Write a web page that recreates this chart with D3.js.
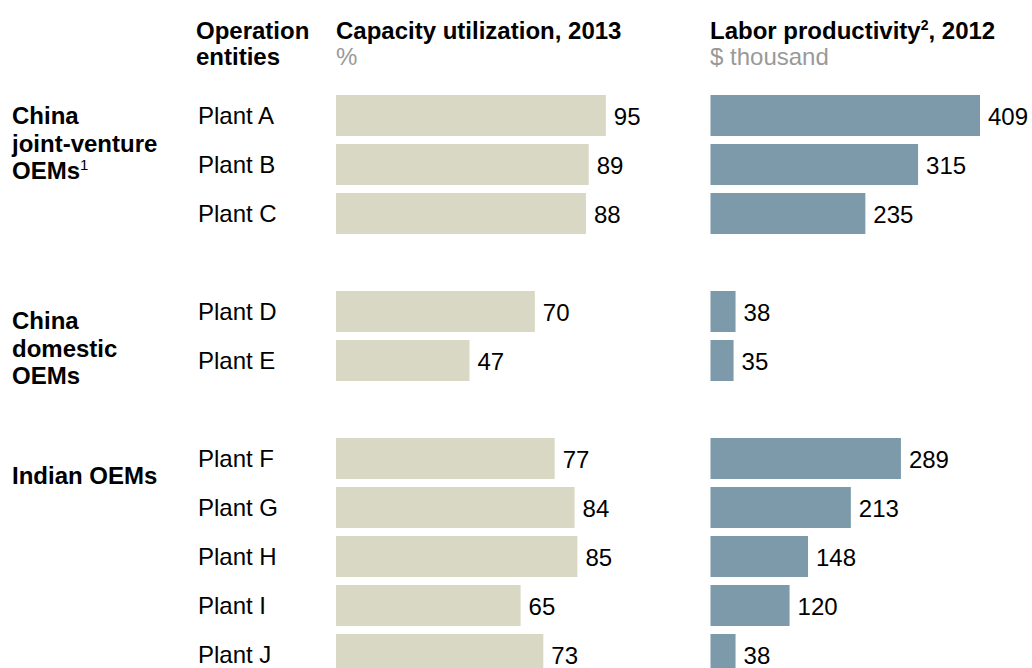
<!DOCTYPE html>
<html>
<head>
<meta charset="utf-8">
<script src="https://cdn.jsdelivr.net/npm/d3@7/dist/d3.min.js"></script>
<style>
  html, body { margin: 0; padding: 0; background: #fff; }
  svg { display: block; font-family: Arial, "Liberation Sans", sans-serif; }
</style>
</head>
<body>
<svg id="chart" width="1032" height="668"></svg>
<script>
// ---- data ----
const plants = ["Plant A","Plant B","Plant C","Plant D","Plant E","Plant F","Plant G","Plant H","Plant I","Plant J"];
const plantGroup = [0,0,0,1,1,2,2,2,2,2];
const groupLabels = [
  ["China", "joint-venture", "OEMs"],
  ["China", "domestic", "OEMs"],
  ["Indian OEMs"]
];
const groupNotes = ["1", "", ""];
const capacity = [95, 89, 88, 70, 47, 77, 84, 85, 65, 73];
const productivity = [409, 315, 235, 38, 35, 289, 213, 148, 120, 38];

// ---- layout ----
const svg = d3.select("#chart");
const beige = "#d9d8c4";
const slate = "#7d9aaa";
const barH = 41;
const rowIdx = plants.map((p, i) => i + plantGroup[i]);
const y = d3.scaleLinear().domain([0, 11]).range([95, 634]);
const xCap = d3.scaleLinear().domain([0, 100]).range([336, 620]);
const xProd = d3.scaleLinear().domain([0, 409]).range([710.5, 980]);

// headers
const hdr = svg.append("g").attr("font-size", 24);
const h1 = hdr.append("text").attr("x", 196).attr("y", 39).attr("font-weight", "bold").attr("fill", "#000");
h1.append("tspan").attr("x", 196).text("Operation");
h1.append("tspan").attr("x", 196).attr("dy", 26).text("entities");

hdr.append("text").attr("x", 336).attr("y", 39).attr("font-weight", "bold").text("Capacity utilization, 2013");
hdr.append("text").attr("x", 336).attr("y", 65).attr("fill", "#999").text("%");

const lp = hdr.append("text").attr("x", 710).attr("y", 39).attr("font-weight", "bold");
lp.append("tspan").text("Labor productivity");
lp.append("tspan").attr("font-size", 14).attr("dy", -9).text("2");
lp.append("tspan").attr("dy", 9).text(", 2012");
hdr.append("text").attr("x", 710).attr("y", 65).attr("fill", "#999").text("$ thousand");

// group labels
const groupFirstBaseline = [124, 329, 484];
groupLabels.forEach((lines, g) => {
  const t = svg.append("text").attr("x", 12).attr("y", groupFirstBaseline[g])
    .attr("font-size", 24).attr("font-weight", "bold").attr("fill", "#000");
  lines.forEach((ln, k) => {
    t.append("tspan").attr("x", 12).attr("dy", k === 0 ? 0 : 27.5).text(ln);
  });
  if (groupNotes[g]) {
    t.append("tspan").attr("font-size", 15).attr("font-weight", "normal").attr("dy", -9).text(groupNotes[g]);
  }
});

// plant labels
svg.append("g").selectAll("text").data(plants).join("text")
  .attr("x", 198)
  .attr("y", (d, i) => y(rowIdx[i]) + barH / 2)
  .attr("dy", "0.35em")
  .attr("font-size", 24)
  .text(d => d);

// capacity bars
const gCap = svg.append("g");
gCap.selectAll("rect").data(capacity).join("rect")
  .attr("x", xCap(0))
  .attr("y", (d, i) => y(rowIdx[i]))
  .attr("width", d => xCap(d) - xCap(0))
  .attr("height", barH)
  .attr("fill", beige);
gCap.selectAll("text").data(capacity).join("text")
  .attr("x", d => xCap(d) + 8)
  .attr("y", (d, i) => y(rowIdx[i]) + barH / 2 + 1)
  .attr("dy", "0.35em")
  .attr("font-size", 24)
  .text(d => d);

// productivity bars
const gProd = svg.append("g");
gProd.selectAll("rect").data(productivity).join("rect")
  .attr("x", xProd(0))
  .attr("y", (d, i) => y(rowIdx[i]))
  .attr("width", d => xProd(d) - xProd(0))
  .attr("height", barH)
  .attr("fill", slate);
gProd.selectAll("text").data(productivity).join("text")
  .attr("x", d => xProd(d) + 8)
  .attr("y", (d, i) => y(rowIdx[i]) + barH / 2 + 1)
  .attr("dy", "0.35em")
  .attr("font-size", 24)
  .text(d => d);
</script>
</body>
</html>
